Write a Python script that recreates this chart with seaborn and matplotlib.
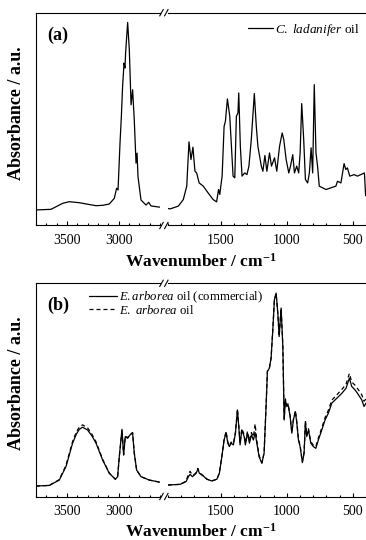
import matplotlib
matplotlib.use("Agg")
import matplotlib.pyplot as plt
from matplotlib.lines import Line2D
from matplotlib.ticker import MultipleLocator, FixedLocator
import pandas as pd
import seaborn as sns

# ---------------------------------------------------------------------------
# (a) C. ladanifer oil
# C-H stretching region
ladanifer_hi_wn = [3800, 3655, 3543, 3478, 3381, 3300, 3219, 3150, 3091, 3042,
                   3020, 3006, 2987, 2974, 2962, 2948, 2939, 2933, 2913, 2897,
                   2880, 2865, 2849, 2832, 2822, 2813, 2784, 2735, 2710, 2687,
                   2600]
ladanifer_hi_abs = [0.073, 0.076, 0.104, 0.112, 0.107, 0.100, 0.093, 0.095, 0.101, 0.128,
                    0.175, 0.167, 0.387, 0.512, 0.653, 0.763, 0.740, 0.810, 0.954, 0.826,
                    0.567, 0.638, 0.496, 0.293, 0.340, 0.230, 0.120, 0.096, 0.109, 0.092,
                    0.086]
# fingerprint region
ladanifer_lo_wn = [1900, 1884, 1822, 1784, 1758, 1741, 1726, 1711, 1696, 1683,
                   1664, 1633, 1596, 1558, 1532, 1517, 1508, 1490, 1475, 1465,
                   1450, 1432, 1407, 1394, 1382, 1370, 1364, 1352, 1339, 1319,
                   1302, 1287, 1269, 1246, 1231, 1219, 1206, 1193, 1181, 1166,
                   1151, 1131, 1116, 1093, 1076, 1055, 1035, 1023, 1005, 985,
                   972, 955, 942, 925, 910, 899, 887, 872, 859, 842,
                   829, 816, 804, 792, 779, 767, 754, 729, 703, 666,
                   628, 616, 590, 566, 553, 541, 523, 490, 465, 440,
                   412, 403]
ladanifer_lo_abs = [0.080, 0.078, 0.091, 0.122, 0.185, 0.393, 0.310, 0.368, 0.255, 0.247,
                    0.200, 0.185, 0.153, 0.122, 0.111, 0.169, 0.146, 0.232, 0.466, 0.490,
                    0.595, 0.513, 0.232, 0.224, 0.513, 0.529, 0.623, 0.372, 0.232, 0.247,
                    0.239, 0.279, 0.404, 0.620, 0.466, 0.372, 0.326, 0.279, 0.255, 0.329,
                    0.255, 0.341, 0.279, 0.318, 0.255, 0.372, 0.435, 0.404, 0.310, 0.247,
                    0.279, 0.333, 0.247, 0.279, 0.247, 0.341, 0.573, 0.404, 0.216, 0.200,
                    0.247, 0.365, 0.247, 0.662, 0.341, 0.279, 0.185, 0.177, 0.169, 0.177,
                    0.185, 0.208, 0.200, 0.291, 0.263, 0.271, 0.232, 0.239, 0.232, 0.239,
                    0.247, 0.140]

# (b) E. arborea oils (commercial sample and extracted oil)
arborea_hi_wn = [3800, 3671, 3575, 3510, 3446, 3410, 3381, 3349, 3301, 3260,
                 3219, 3155, 3091, 3032, 3010, 2994, 2968, 2952, 2936, 2913,
                 2890, 2865, 2849, 2826, 2784, 2703, 2600]
arborea_comm_hi = [0.049, 0.052, 0.077, 0.140, 0.250, 0.292, 0.315, 0.325, 0.312, 0.285,
                   0.250, 0.171, 0.109, 0.081, 0.093, 0.187, 0.315, 0.195, 0.281, 0.273,
                   0.289, 0.297, 0.203, 0.124, 0.093, 0.077, 0.067]
arborea_oil_hi = [0.049, 0.052, 0.079, 0.146, 0.258, 0.302, 0.326, 0.336, 0.322, 0.293,
                  0.256, 0.174, 0.110, 0.081, 0.093, 0.185, 0.312, 0.195, 0.283, 0.276,
                  0.292, 0.300, 0.205, 0.124, 0.093, 0.077, 0.067]
arborea_lo_wn = [1900, 1808, 1763, 1745, 1733, 1715, 1700, 1687, 1674, 1662,
                 1644, 1627, 1606, 1568, 1530, 1511, 1492, 1475, 1460, 1447,
                 1435, 1422, 1405, 1389, 1374, 1364, 1354, 1341, 1323, 1314,
                 1298, 1283, 1268, 1253, 1240, 1227, 1210, 1189, 1172, 1157,
                 1147, 1132, 1119, 1106, 1094, 1081, 1068, 1058, 1043, 1030,
                 1020, 1011, 1000, 990, 975, 962, 950, 935, 924, 912,
                 899, 882, 869, 859, 849, 836, 818, 799, 780, 761,
                 735, 710, 685, 659, 621, 583, 551, 526, 508, 483,
                 457, 432, 415, 400]
arborea_comm_lo = [0.054, 0.057, 0.070, 0.093, 0.104, 0.093, 0.101, 0.109, 0.128, 0.109,
                   0.101, 0.093, 0.081, 0.073, 0.081, 0.109, 0.187, 0.265, 0.300, 0.250,
                   0.234, 0.250, 0.242, 0.297, 0.406, 0.328, 0.242, 0.312, 0.281, 0.242,
                   0.297, 0.250, 0.289, 0.265, 0.300, 0.250, 0.187, 0.156, 0.203, 0.422,
                   0.586, 0.602, 0.649, 0.782, 0.923, 0.954, 0.860, 0.750, 0.884, 0.703,
                   0.359, 0.453, 0.422, 0.430, 0.375, 0.297, 0.359, 0.398, 0.344, 0.265,
                   0.234, 0.159, 0.203, 0.351, 0.281, 0.312, 0.250, 0.234, 0.226, 0.265,
                   0.312, 0.359, 0.391, 0.438, 0.461, 0.484, 0.508, 0.555, 0.516, 0.500,
                   0.477, 0.453, 0.422, 0.438]
arborea_oil_lo = [0.054, 0.057, 0.072, 0.105, 0.118, 0.100, 0.104, 0.112, 0.132, 0.112,
                  0.103, 0.095, 0.082, 0.073, 0.081, 0.109, 0.187, 0.268, 0.305, 0.255,
                  0.238, 0.255, 0.248, 0.302, 0.410, 0.335, 0.250, 0.318, 0.290, 0.250,
                  0.305, 0.262, 0.300, 0.280, 0.340, 0.262, 0.192, 0.158, 0.205, 0.425,
                  0.588, 0.604, 0.650, 0.783, 0.922, 0.952, 0.858, 0.752, 0.882, 0.705,
                  0.365, 0.458, 0.428, 0.435, 0.380, 0.302, 0.362, 0.402, 0.350, 0.270,
                  0.238, 0.163, 0.208, 0.355, 0.287, 0.318, 0.257, 0.241, 0.234, 0.274,
                  0.322, 0.370, 0.405, 0.452, 0.477, 0.502, 0.527, 0.577, 0.537, 0.522,
                  0.500, 0.477, 0.447, 0.458]

# broken wavenumber axis
hi_range = (3800, 2600)
lo_range = (1900, 400)
hi_major = [3500, 3000]
lo_major = [1500, 1000, 500]

panel_letters = ["(a)", "(b)"]
label_ladanifer = r"$\mathit{C.\ ladanifer}$ oil"
label_comm = r"$\mathit{E.arborea}$ oil (commercial)"
label_oil = r"$\mathit{E.\ arborea}$ oil"
x_title = r"Wavenumber / cm$^{\mathbf{-1}}$"
y_title = "Absorbance / a.u."

# ---------------------------------------------------------------------------
W, H = 366, 540
sns.set_theme(style="ticks")
plt.rcParams["font.family"] = ["Liberation Serif", "DejaVu Serif"]
plt.rcParams.update({
    "mathtext.fontset": "custom",
    "mathtext.rm": "Liberation Serif",
    "mathtext.it": "Liberation Serif:italic",
    "mathtext.bf": "Liberation Serif:bold",
    "axes.edgecolor": "black",
    "axes.linewidth": 0.8,
    "xtick.color": "black",
    "text.color": "black",
})

fig = plt.figure(figsize=(W / 100, H / 100), dpi=100)


def fx(px):
    return px / W


def fy(py):
    return 1 - py / H


# panel geometry in pixels: (top, bottom)
panels = [(12.7, 225.5), (283.3, 496.5)]
x_left, x_break_l, x_break_r, x_right = 36, 160, 168, 366


def make_pair(top, bottom):
    h = (bottom - top) / H
    y0 = fy(bottom)
    axl = fig.add_axes([fx(x_left), y0, fx(x_break_l - x_left), h])
    axr = fig.add_axes([fx(x_break_r), y0, fx(x_right - x_break_r), h])
    for ax, rng, majors in ((axl, hi_range, hi_major), (axr, lo_range, lo_major)):
        ax.set_xlim(*rng)
        ax.set_ylim(0, 1)
        ax.set_yticks([])
        ax.xaxis.set_major_locator(FixedLocator(majors))
        ax.xaxis.set_minor_locator(MultipleLocator(100))
        ax.tick_params(axis="x", which="both", direction="in", top=False,
                       bottom=True, labelsize=10, pad=6, width=0.8)
        ax.tick_params(axis="x", which="major", length=2.6)
        ax.tick_params(axis="x", which="minor", length=1.5)
        ax.tick_params(axis="y", left=False, right=False)
        ax.spines["right"].set_visible(False)
        ax.set_facecolor("none")
    axr.spines["left"].set_visible(False)
    # break marks "//" on the top and bottom spines
    for py in (top, bottom):
        for cx in (161.5, 166.3):
            fig.add_artist(Line2D([fx(cx - 2.0), fx(cx + 2.0)],
                                  [fy(py + 3.6), fy(py - 3.6)],
                                  transform=fig.transFigure, color="black",
                                  lw=0.8, solid_capstyle="butt"))
    return axl, axr


def titles(top, bottom, letter, xlabel_baseline):
    # panel letter, vertical and horizontal axis titles
    fig.text(fx(58), fy(top + 22.3), letter, ha="center", va="center",
             fontsize=13, fontweight="bold")
    fig.text(fx(16.5), fy(top + 0.47 * (bottom - top)), y_title, rotation=90,
             ha="center", va="center", fontsize=13, fontweight="bold")
    fig.text(fx(201), fy(xlabel_baseline), x_title, ha="center",
             va="baseline", fontsize=12.5, fontweight="bold")


line_kw = dict(color="black", linewidth=0.9, errorbar=None, sort=False)
dash_style = (0, (3.2, 2.4))

# ---- panel (a)
top, bottom = panels[0]
axl, axr = make_pair(top, bottom)
sns.lineplot(data=pd.DataFrame({"wn": ladanifer_hi_wn, "A": ladanifer_hi_abs}),
             x="wn", y="A", ax=axl, **line_kw)
sns.lineplot(data=pd.DataFrame({"wn": ladanifer_lo_wn, "A": ladanifer_lo_abs}),
             x="wn", y="A", ax=axr, **line_kw)
for ax in (axl, axr):
    ax.set_xlabel("")
    ax.set_ylabel("")
axr.legend(handles=[axr.lines[0]], labels=[label_ladanifer], loc="upper left",
           bbox_to_anchor=(fx(248), fy(21.5)), bbox_transform=fig.transFigure,
           frameon=False, fontsize=9.5, handlelength=1.9, handletextpad=0.15,
           borderpad=0, borderaxespad=0)
titles(top, bottom, panel_letters[0], 266.7)

# ---- panel (b)
top, bottom = panels[1]
axl, axr = make_pair(top, bottom)
sns.lineplot(data=pd.DataFrame({"wn": arborea_hi_wn, "A": arborea_comm_hi}),
             x="wn", y="A", ax=axl, **line_kw)
sns.lineplot(data=pd.DataFrame({"wn": arborea_hi_wn, "A": arborea_oil_hi}),
             x="wn", y="A", ax=axl, linestyle=dash_style, **line_kw)
sns.lineplot(data=pd.DataFrame({"wn": arborea_lo_wn, "A": arborea_comm_lo}),
             x="wn", y="A", ax=axr, **line_kw)
sns.lineplot(data=pd.DataFrame({"wn": arborea_lo_wn, "A": arborea_oil_lo}),
             x="wn", y="A", ax=axr, linestyle=dash_style, **line_kw)
for ax in (axl, axr):
    ax.set_xlabel("")
    ax.set_ylabel("")
axr.legend(handles=[axr.lines[0], axr.lines[1]], labels=[label_comm, label_oil],
           loc="upper left", bbox_to_anchor=(fx(89.3), fy(290)),
           bbox_transform=fig.transFigure, frameon=False, fontsize=9.2,
           handlelength=2.2, handletextpad=0.15, labelspacing=-0.12,
           borderpad=0, borderaxespad=0)
titles(top, bottom, panel_letters[1], 537)

fig.savefig("out.png", dpi=100)
